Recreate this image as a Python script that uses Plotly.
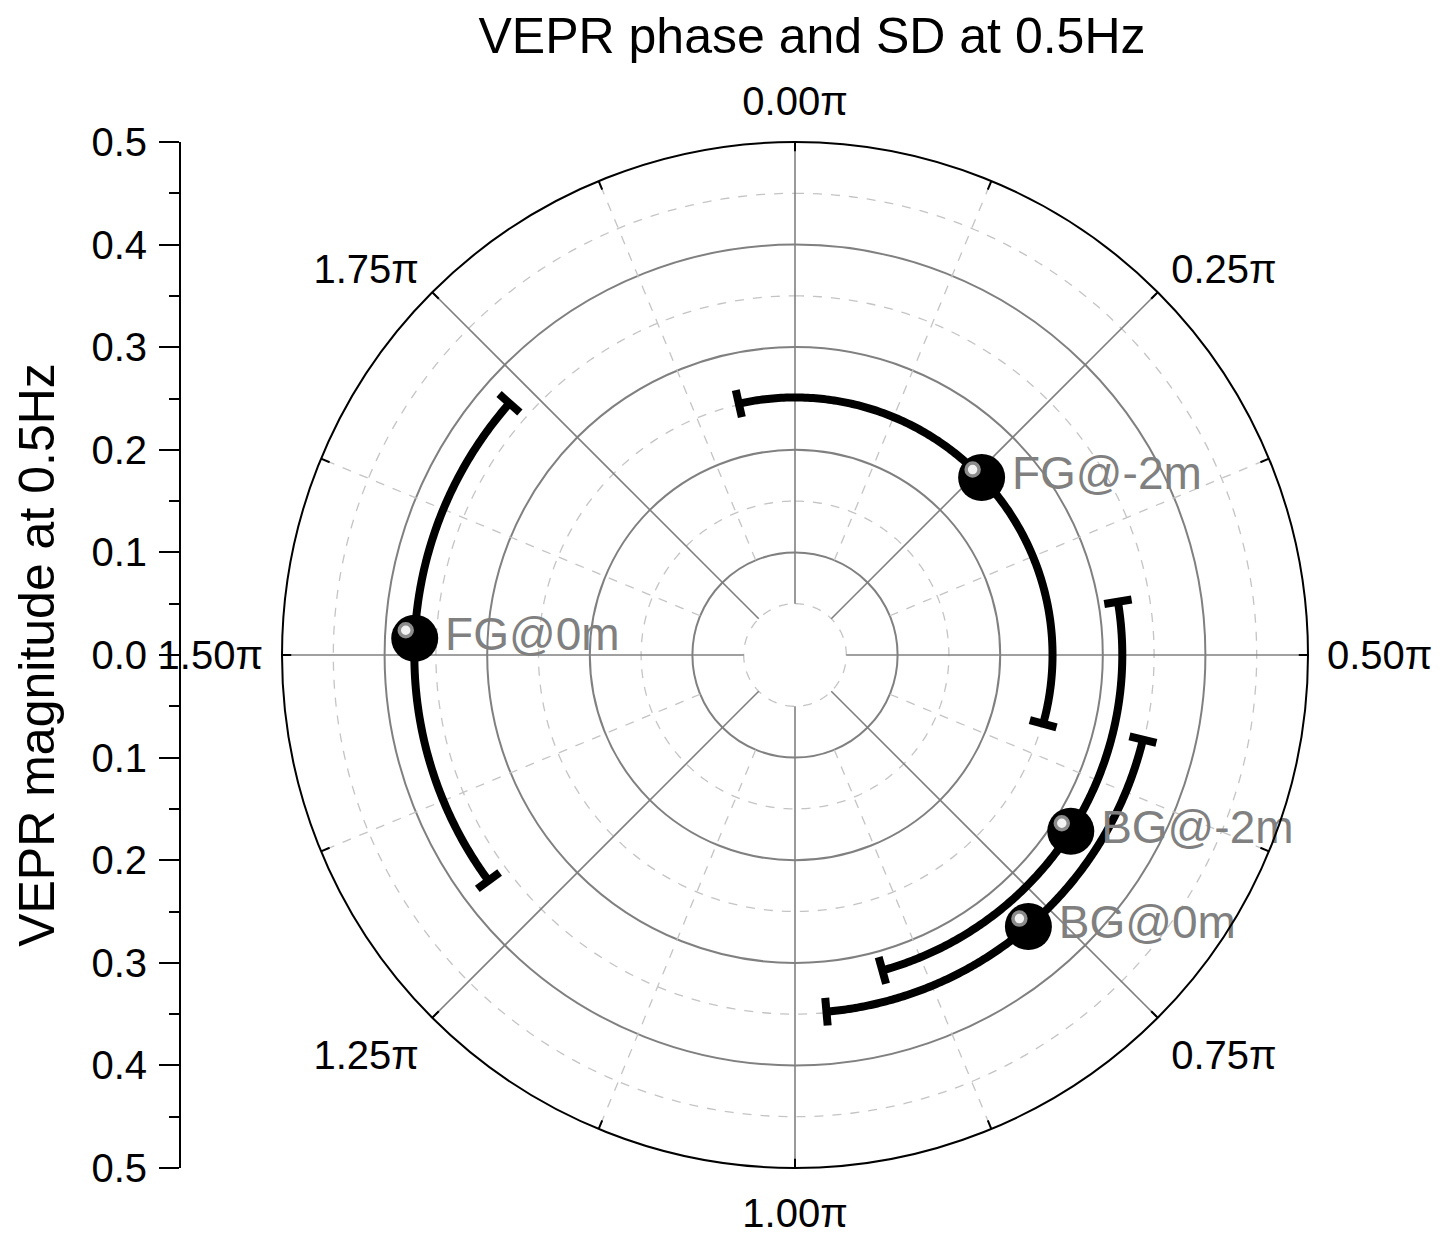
import numpy as np
import plotly.graph_objects as go

# ---- data ----
labels = ["FG@0m", "FG@-2m", "BG@-2m", "BG@0m"]
magnitude = [0.371, 0.251, 0.319, 0.349]
phase_pi = [1.514, 0.258, 0.681, 0.774]      # phase in units of pi
sd_pi = [0.216, 0.328, 0.233, 0.198]          # SD in units of pi

angular_ticks_pi = [0.0, 0.25, 0.5, 0.75, 1.0, 1.25, 1.5, 1.75]
angular_tick_labels = ["0.00π", "0.25π", "0.50π", "0.75π", "1.00π", "1.25π", "1.50π", "1.75π"]
minor_angles_pi = [0.125, 0.375, 0.625, 0.875, 1.125, 1.375, 1.625, 1.875]
solid_rings = [0.1, 0.2, 0.3, 0.4]
dashed_rings = [0.05, 0.15, 0.25, 0.35, 0.45]
mag_ticks = [-0.5, -0.4, -0.3, -0.2, -0.1, 0.0, 0.1, 0.2, 0.3, 0.4, 0.5]
mag_tick_labels = ["0.5", "0.4", "0.3", "0.2", "0.1", "0.0", "0.1", "0.2", "0.3", "0.4", "0.5"]
mag_minor = [-0.45, -0.35, -0.25, -0.15, -0.05, 0.05, 0.15, 0.25, 0.35, 0.45]

R_MAX = 0.5
FONT = "Liberation Sans, Arial, sans-serif"
OFF = 8                      # page body margin
W, H = 1453 - 2 * OFF, 1234 - OFF
cx, cy, rad = 795 - OFF, 655 - OFF, 513
dom_x = [(cx - rad) / W, (cx + rad) / W]
dom_y = [(H - cy - rad) / H, (H - cy + rad) / H]
px_per_unit = rad / R_MAX

fig = go.Figure()

# dashed rings
for rr in dashed_rings:
    th = np.linspace(0, 360, 361)
    fig.add_trace(go.Scatterpolar(r=[rr] * len(th), theta=th, mode="lines",
                                  line=dict(color="#c4c4c4", width=1.3, dash="dash"),
                                  hoverinfo="skip", showlegend=False))
# solid spokes
for a in angular_ticks_pi:
    fig.add_trace(go.Scatterpolar(r=[0.05, R_MAX], theta=[a * 180, a * 180], mode="lines",
                                  line=dict(color="#808080", width=1.6),
                                  hoverinfo="skip", showlegend=False))
# dashed spokes
for a in minor_angles_pi:
    fig.add_trace(go.Scatterpolar(r=[0.1, R_MAX], theta=[a * 180, a * 180], mode="lines",
                                  line=dict(color="#c4c4c4", width=1.3, dash="dash"),
                                  hoverinfo="skip", showlegend=False))
# inward ticks at outer circle
for a in angular_ticks_pi + minor_angles_pi:
    fig.add_trace(go.Scatterpolar(r=[R_MAX - 0.009, R_MAX], theta=[a * 180, a * 180], mode="lines",
                                  line=dict(color="black", width=2),
                                  hoverinfo="skip", showlegend=False))

# error arcs with caps
cap = 0.0135
for m, p, s in zip(magnitude, phase_pi, sd_pi):
    lo, hi = (p - s) * 180, (p + s) * 180
    th = np.linspace(lo, hi, 200)
    rs = [m] * len(th)
    r_all = list(rs) + [None, m - cap, m + cap, None, m - cap, m + cap]
    t_all = list(th) + [None, lo, lo, None, hi, hi]
    fig.add_trace(go.Scatterpolar(r=r_all, theta=t_all, mode="lines",
                                  line=dict(color="black", width=8),
                                  connectgaps=False, hoverinfo="skip", showlegend=False))

# markers with labels
theta_deg = [p * 180 for p in phase_pi]
fig.add_trace(go.Scatterpolar(r=magnitude, theta=theta_deg, mode="markers+text",
                              text=labels, textposition="middle right",
                              textfont=dict(family=FONT, size=46, color="#808080"),
                              marker=dict(size=47, color="black"),
                              showlegend=False))

# sphere highlight: shifted up-left by a few pixels from each marker centre
hl_dx, hl_dy = -9 / px_per_unit, 8 / px_per_unit
hl_r, hl_t = [], []
for m, t in zip(magnitude, theta_deg):
    x = m * np.sin(np.radians(t)) + hl_dx
    y = m * np.cos(np.radians(t)) + hl_dy
    hl_r.append(float(np.hypot(x, y)))
    hl_t.append(float(np.degrees(np.arctan2(x, y))))
fig.add_trace(go.Scatterpolar(r=hl_r, theta=hl_t, mode="markers",
                              marker=dict(size=13, color="#f2f2f2",
                                          line=dict(color="#8c8c8c", width=3.5)),
                              hoverinfo="skip", showlegend=False))

# invisible cartesian trace to show the left magnitude axis
fig.add_trace(go.Scatter(x=[0, 0], y=[-R_MAX, R_MAX], mode="markers",
                         marker=dict(opacity=0), hoverinfo="skip", showlegend=False,
                         xaxis="x", yaxis="y"))

fig.update_layout(
    width=W, height=H,
    margin=dict(l=0, r=0, t=0, b=0),
    paper_bgcolor="white", plot_bgcolor="white",
    font=dict(family=FONT, color="black"),
    title=dict(text="VEPR phase and SD at 0.5Hz", x=(812 - OFF) / W, y=1 - (35 - OFF) / H,
               xanchor="center", yanchor="middle",
               font=dict(family=FONT, size=50, color="black")),
    polar=dict(
        domain=dict(x=dom_x, y=dom_y),
        bgcolor="white",
        radialaxis=dict(range=[0, R_MAX], tickvals=solid_rings, showticklabels=False,
                        ticks="", showline=False, gridcolor="#808080", gridwidth=1.6),
        angularaxis=dict(rotation=90, direction="clockwise",
                         tickvals=[a * 180 for a in angular_ticks_pi],
                         ticktext=angular_tick_labels,
                         showgrid=False, showline=True, linecolor="black", linewidth=2,
                         ticks="outside", ticklen=10, tickcolor="rgba(0,0,0,0)",
                         tickfont=dict(family=FONT, size=40, color="black")),
    ),
    xaxis=dict(domain=[(180 - OFF) / W, (180 - OFF) / W + 0.005], visible=False, range=[0, 1]),
    yaxis=dict(domain=dom_y, range=[-R_MAX, R_MAX], anchor="free", position=(180 - OFF) / W,
               tickmode="array", tickvals=mag_ticks, ticktext=mag_tick_labels,
               ticks="outside", ticklen=20, tickwidth=2, tickcolor="black",
               showline=True, linecolor="black", linewidth=2,
               showgrid=False, zeroline=False, automargin=False,
               ticklabelstandoff=4,
               tickfont=dict(family=FONT, size=40, color="black"),
               minor=dict(tickmode="array", tickvals=mag_minor, ticks="outside",
                          ticklen=10, tickwidth=2, tickcolor="black", showgrid=False),
               title=dict(text="VEPR magnitude at 0.5Hz", standoff=20,
                          font=dict(family=FONT, size=50, color="black"))),
)

fig.write_html("out.html")
